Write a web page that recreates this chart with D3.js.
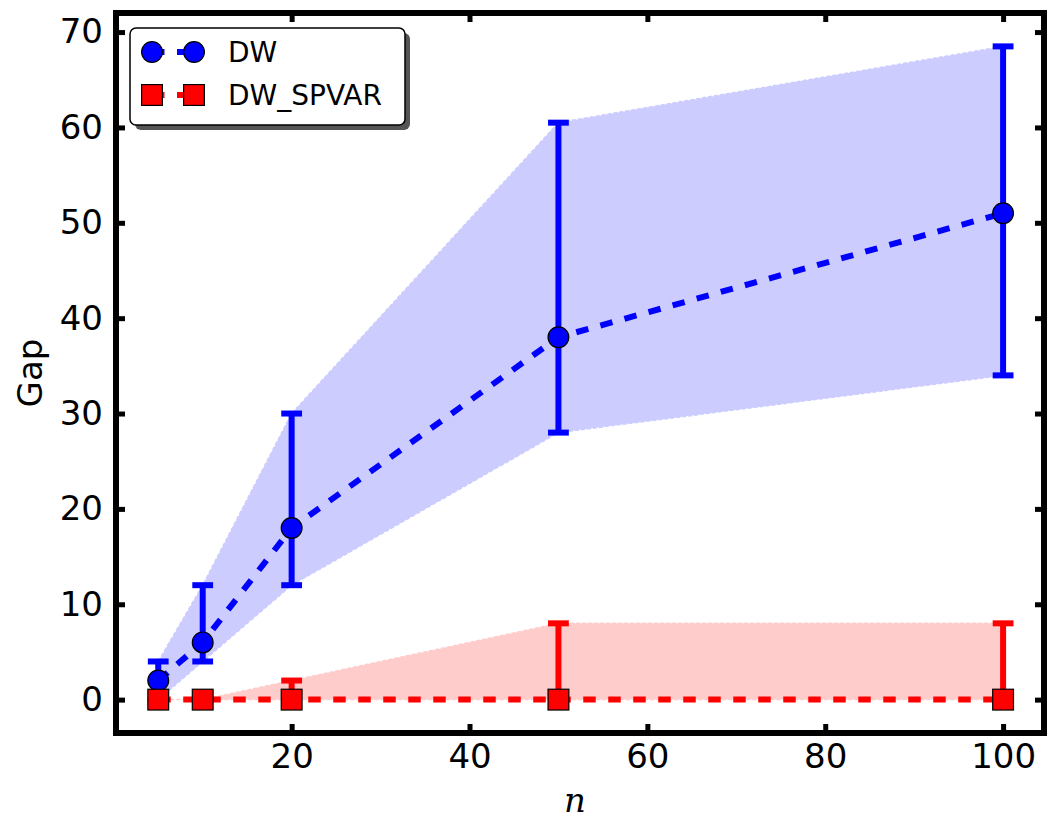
<!DOCTYPE html>
<html>
<head>
<meta charset="utf-8">
<script src="https://cdn.jsdelivr.net/npm/d3@7"></script>
<style>
  html, body { margin: 0; padding: 0; background: #fff; }
  svg { display: block; }
  text { font-family: "DejaVu Sans", sans-serif; }
</style>
</head>
<body>
<svg id="chart" width="1061" height="836"></svg>
<script>
// ---- data ----
const categories = [5, 10, 20, 50, 100];
const dwMean  = [2, 6, 18, 38, 51];
const dwLower = [0, 4, 12, 28, 34];
const dwUpper = [4, 12, 30, 60.5, 68.5];
const spMean  = [0, 0, 0, 0, 0];
const spLower = [0, 0, 0, 0, 0];
const spUpper = [0, 0, 2, 8, 8];
const xTicks = [20, 40, 60, 80, 100];
const yTicks = [0, 10, 20, 30, 40, 50, 60, 70];
const seriesNames = ["DW", "DW_SPVAR"];

// ---- layout ----
const svg = d3.select("#chart");
const L = 116, R = 1044, T = 13, B = 733;
const x = d3.scaleLinear().domain([0.25, 104.6]).range([L, R]);
const y = d3.scaleLinear().domain([-3.5, 72]).range([B, T]);

const series = [
  { name: seriesNames[0], mean: dwMean, lo: dwLower, hi: dwUpper, color: "#0000ff", fill: "#ccccff", shape: "circle" },
  { name: seriesNames[1], mean: spMean, lo: spLower, hi: spUpper, color: "#ff0000", fill: "#ffcccc", shape: "square" }
];

const clip = svg.append("defs").append("clipPath").attr("id", "clip")
  .append("rect").attr("x", L).attr("y", T).attr("width", R - L).attr("height", B - T);

const plot = svg.append("g").attr("clip-path", "url(#clip)");

// bands
const area = d3.area().x(d => x(d.x)).y0(d => y(d.lo)).y1(d => y(d.hi));
series.forEach(s => {
  const pts = categories.map((c, i) => ({ x: c, lo: s.lo[i], hi: s.hi[i] }));
  plot.append("path").datum(pts).attr("d", area)
    .attr("fill", s.fill).attr("stroke", s.fill).attr("stroke-width", 1.5)
    .attr("stroke-dasharray", "4,2");
});

const MS = 20.8, R0 = MS / 2, CAP = 10.4;
function marker(g, shape, cx, cy, color) {
  if (shape === "circle") {
    g.append("circle").attr("cx", cx).attr("cy", cy).attr("r", R0)
      .attr("fill", color).attr("stroke", "#000").attr("stroke-width", 1.2);
  } else {
    g.append("rect").attr("x", cx - R0).attr("y", cy - R0).attr("width", MS).attr("height", MS)
      .attr("fill", color).attr("stroke", "#000").attr("stroke-width", 1.2);
  }
}

const line = d3.line().x(d => x(d.x)).y(d => y(d.y));
series.forEach(s => {
  const g = plot.append("g");
  const pts = categories.map((c, i) => ({ x: c, y: s.mean[i] }));
  g.append("path").datum(pts).attr("d", line)
    .attr("fill", "none").attr("stroke", s.color).attr("stroke-width", 6)
    .attr("stroke-dasharray", "12.5,12.5");
  categories.forEach((c, i) => {
    const cx = x(c);
    g.append("line").attr("x1", cx).attr("x2", cx).attr("y1", y(s.lo[i])).attr("y2", y(s.hi[i]))
      .attr("stroke", s.color).attr("stroke-width", 6);
    [s.lo[i], s.hi[i]].forEach(v => {
      g.append("line").attr("x1", cx - CAP).attr("x2", cx + CAP).attr("y1", y(v)).attr("y2", y(v))
        .attr("stroke", s.color).attr("stroke-width", 6);
    });
  });
  categories.forEach((c, i) => marker(g, s.shape, x(c), y(s.mean[i]), s.color));
});

// ---- axes ----
const FS = 34;
const xAxis = svg.append("g").attr("transform", `translate(0,${B})`)
  .call(d3.axisBottom(x).tickValues(xTicks).tickSize(-9).tickPadding(11).tickFormat(d3.format("d")));
const xTop = svg.append("g").attr("transform", `translate(0,${T})`)
  .call(d3.axisTop(x).tickValues(xTicks).tickSize(-9).tickFormat(""));
const yAxis = svg.append("g").attr("transform", `translate(${L},0)`)
  .call(d3.axisLeft(y).tickValues(yTicks).tickSize(-9).tickPadding(13).tickFormat(d3.format("d")));
const yRight = svg.append("g").attr("transform", `translate(${R},0)`)
  .call(d3.axisRight(y).tickValues(yTicks).tickSize(-9).tickFormat(""));
[xAxis, xTop, yAxis, yRight].forEach(a => {
  a.select(".domain").remove();
  a.selectAll(".tick line").attr("stroke", "#000").attr("stroke-width", 5);
  a.selectAll(".tick text").attr("fill", "#000").style("font-size", FS + "px")
    .style("font-family", "'DejaVu Sans', sans-serif");
});

// frame
svg.append("rect").attr("x", L).attr("y", T).attr("width", R - L).attr("height", B - T)
  .attr("fill", "none").attr("stroke", "#000").attr("stroke-width", 6);

// axis labels
svg.append("text").attr("transform", "translate(42,373) rotate(-90)")
  .attr("text-anchor", "middle").style("font-size", FS + "px").text("Gap");
svg.append("text").attr("x", 575).attr("y", 812).attr("text-anchor", "middle")
  .style("font-family", "'DejaVu Serif', serif").style("font-style", "italic")
  .style("font-size", FS + "px").text("n");

// ---- legend ----
const lg = svg.append("g");
lg.append("rect").attr("x", 135).attr("y", 33).attr("width", 275).attr("height", 97)
  .attr("rx", 6).attr("fill", "#555");
lg.append("rect").attr("x", 130).attr("y", 28).attr("width", 275).attr("height", 97)
  .attr("rx", 6).attr("fill", "#fff").attr("stroke", "#000").attr("stroke-width", 1.5);
const legendRows = [52, 95];
series.forEach((s, i) => {
  const ly = legendRows[i];
  lg.append("line").attr("x1", 152).attr("x2", 194).attr("y1", ly).attr("y2", ly)
    .attr("stroke", s.color).attr("stroke-width", 6).attr("stroke-dasharray", "12.5,12.5");
  marker(lg, s.shape, 152, ly, s.color);
  marker(lg, s.shape, 194, ly, s.color);
  lg.append("text").attr("x", 228).attr("y", ly + 10).style("font-size", "28px").text(s.name);
});
</script>
</body>
</html>
